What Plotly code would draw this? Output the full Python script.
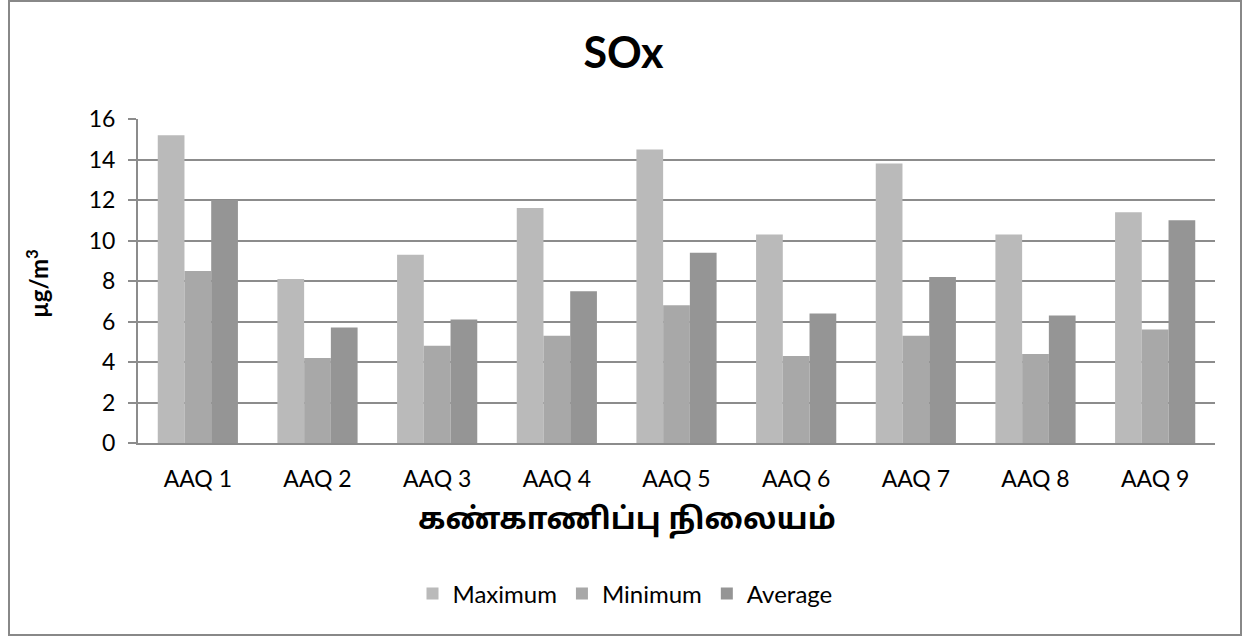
import plotly.graph_objects as go

categories = ["AAQ 1", "AAQ 2", "AAQ 3", "AAQ 4", "AAQ 5", "AAQ 6", "AAQ 7", "AAQ 8", "AAQ 9"]
maximum = [15.2, 8.1, 9.3, 11.6, 14.5, 10.3, 13.8, 10.3, 11.4]
minimum = [8.5, 4.2, 4.8, 5.3, 6.8, 4.3, 5.3, 4.4, 5.6]
average = [12.0, 5.7, 6.1, 7.5, 9.4, 6.4, 8.2, 6.3, 11.0]
y_ticks = [0, 2, 4, 6, 8, 10, 12, 14, 16]

FONT = "Lato, Open Sans, Noto Sans, DejaVu Sans, sans-serif"
GRID = "#8c8c8c"

fig = go.Figure()
fig.add_bar(name="Maximum", x=categories, y=maximum, marker=dict(color="#BABABA", line=dict(width=0)))
fig.add_bar(name="Minimum", x=categories, y=minimum, marker=dict(color="#A8A8A8", line=dict(width=0)))
fig.add_bar(name="Average", x=categories, y=average, marker=dict(color="#959595", line=dict(width=0)))

W, H = 1247, 638
L, R, T, B = 138, 32, 119, 195
pw, ph = W - L - R, H - T - B

def px(x):
    return (x - L) / pw

def py(y):
    return (H - B - y) / ph

fig.update_layout(
    width=W, height=H,
    margin=dict(l=L, r=R, t=T, b=B),
    paper_bgcolor="white", plot_bgcolor="white",
    barmode="group", bargap=0.33, bargroupgap=0,
    font=dict(family=FONT, size=23, color="black"),
    title=dict(text="<b>SOx</b>", x=0.5, xanchor="center", y=1 - 53 / H, yanchor="middle",
               font=dict(size=43, family=FONT, color="black")),
    xaxis=dict(showgrid=False, showline=True, linecolor=GRID, linewidth=2,
               ticks="", tickfont=dict(size=23), ticklabelstandoff=14),
    yaxis=dict(range=[0, 16], tickvals=y_ticks, showgrid=True, gridcolor=GRID, gridwidth=2,
               showline=True, linecolor=GRID, linewidth=2, ticks="outside", ticklen=8,
               tickcolor=GRID, tickwidth=2, tickfont=dict(size=23), zeroline=False,
               ticklabelstandoff=8),
    legend=dict(orientation="h", x=px(625), xanchor="center", y=py(594), yanchor="middle",
                font=dict(size=24), traceorder="normal"),
    annotations=[
        dict(text="<b>கண்காணிப்பு நிலையம்</b>", xref="paper", yref="paper",
             x=px(627), y=py(521), xanchor="center", yanchor="middle", showarrow=False,
             font=dict(size=30, family="Noto Sans Tamil, Lato, sans-serif")),
        dict(text="<b>µg/m<sup>3</sup></b>", xref="paper", yref="paper",
             x=px(37), y=py(284), xanchor="center", yanchor="middle", showarrow=False,
             textangle=-90, font=dict(size=24)),
    ],
    shapes=[dict(type="rect", xref="paper", yref="paper",
                 x0=px(9), x1=px(1241), y0=py(635), y1=py(1),
                 line=dict(color="#888888", width=2), layer="below")],
)

fig.write_html("out.html", config={"displayModeBar": False},
               post_script="document.body.style.margin='0px';")
